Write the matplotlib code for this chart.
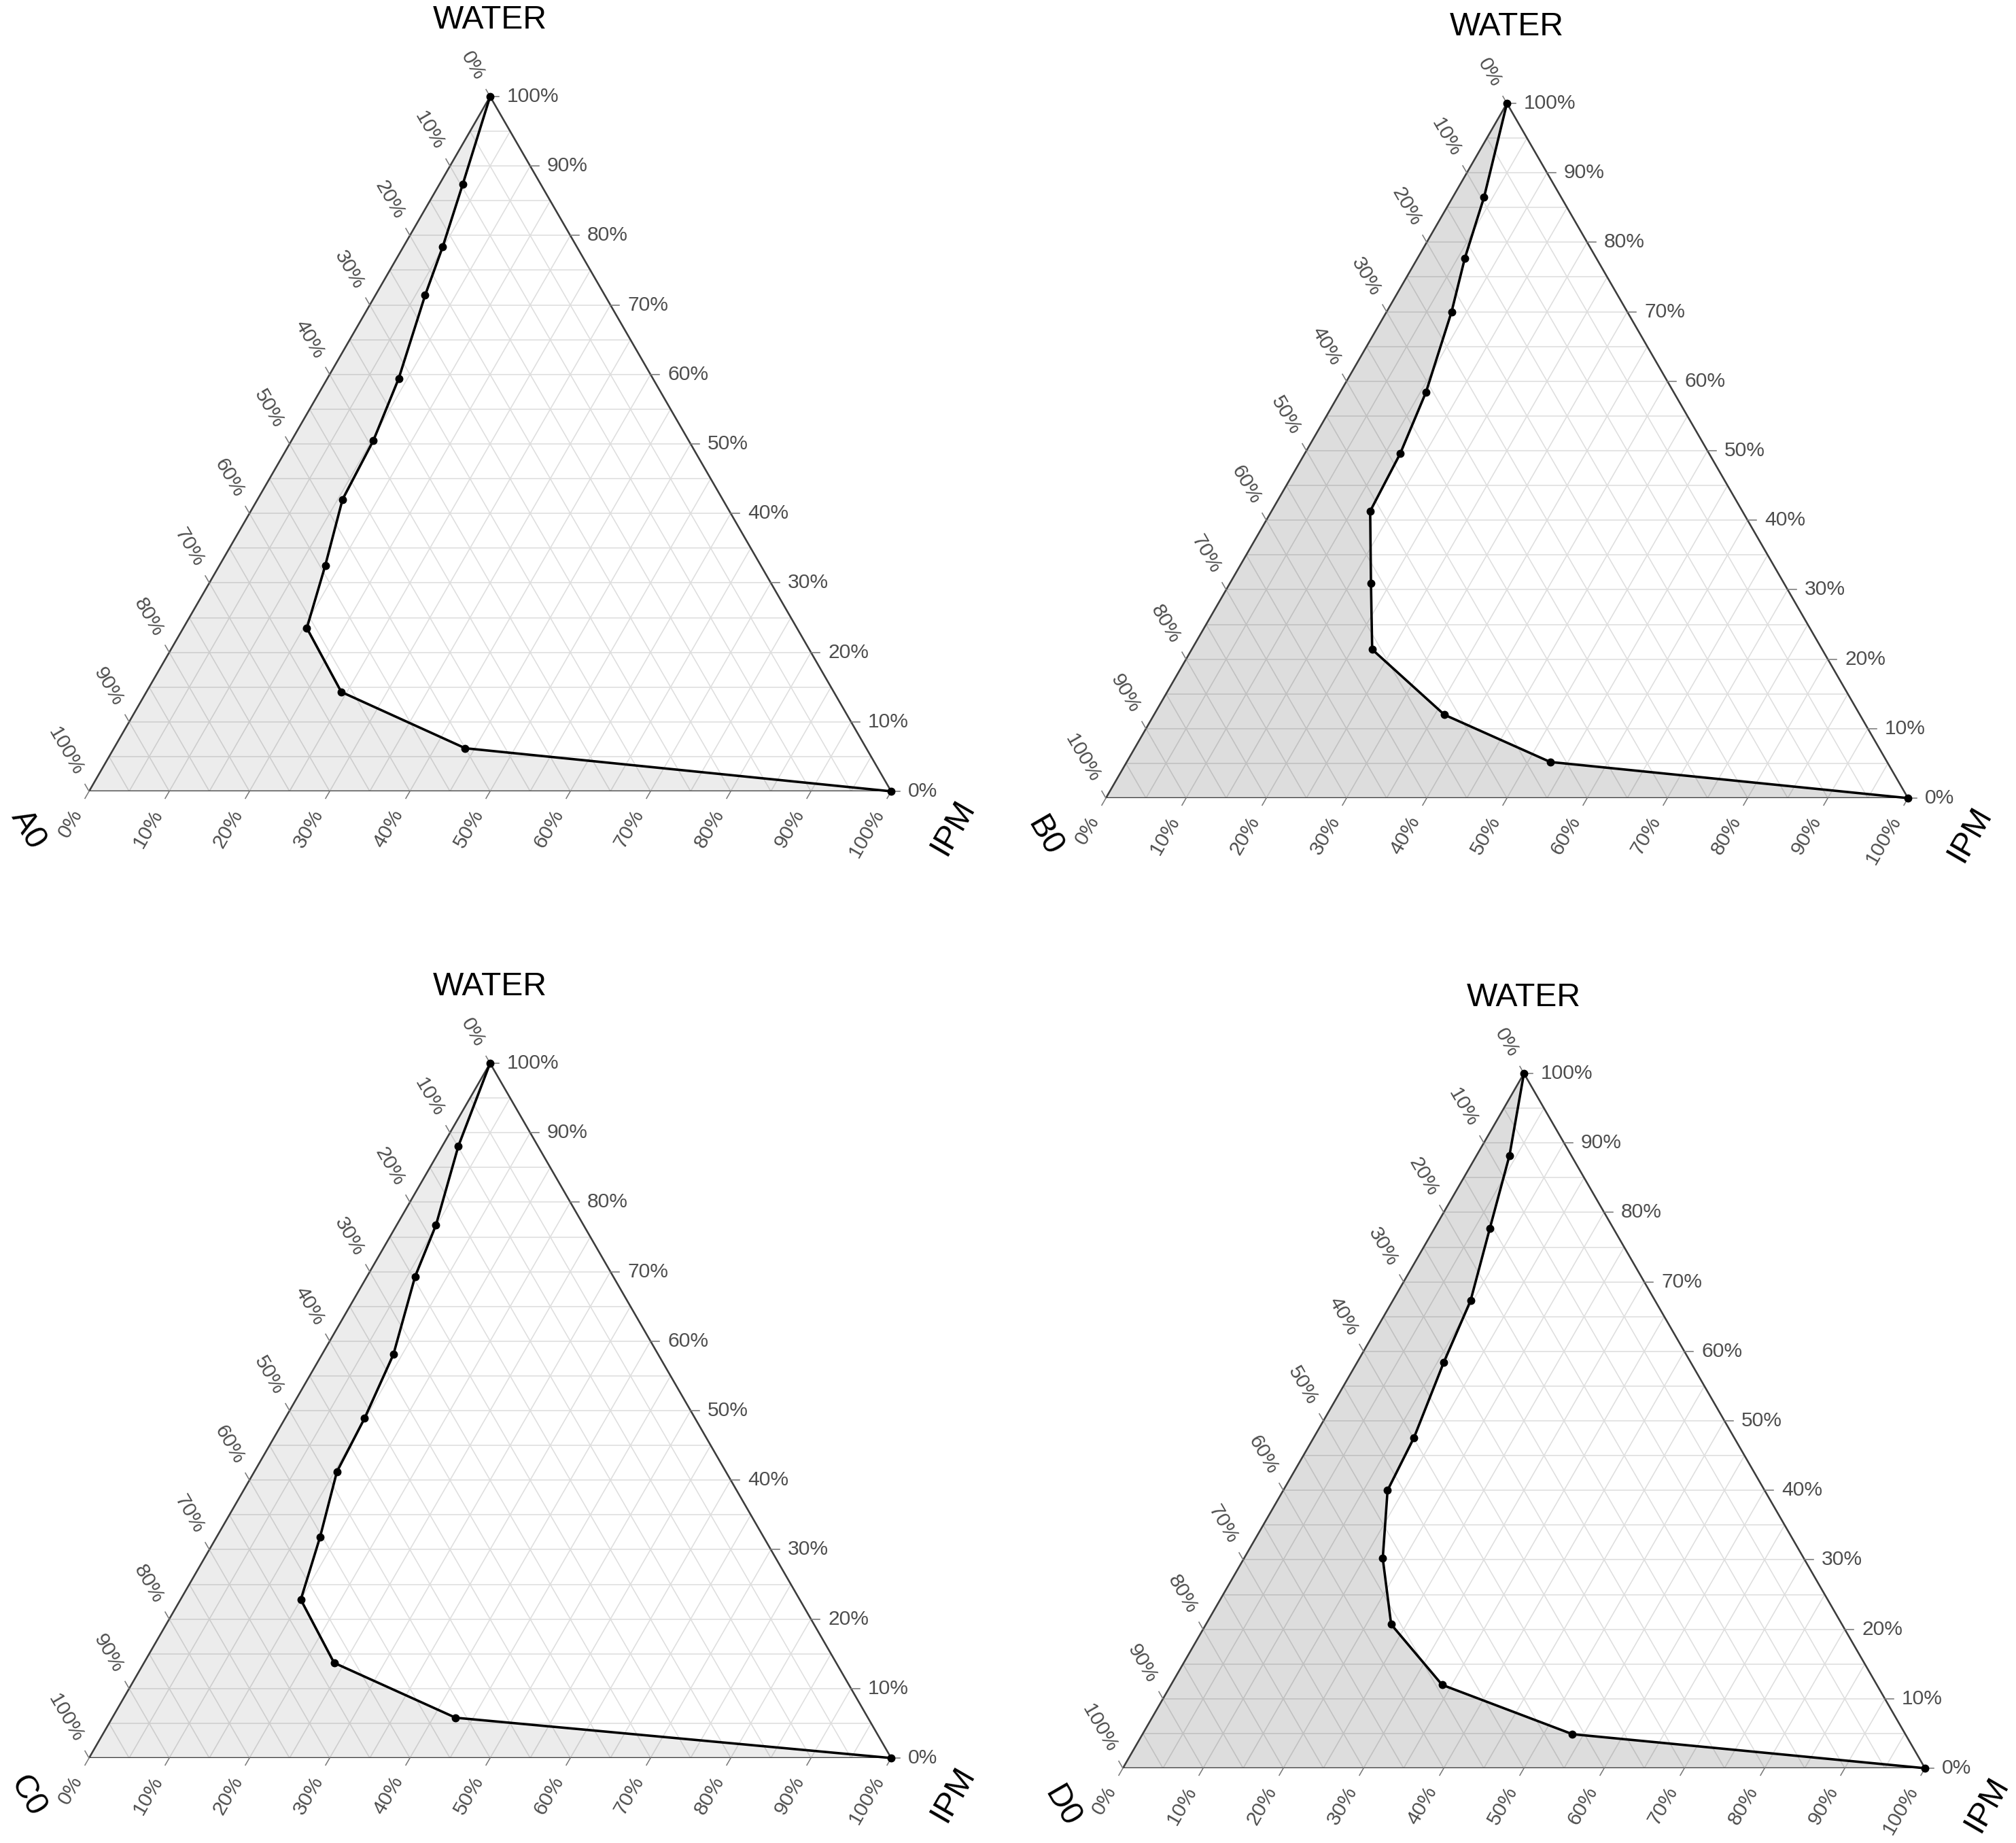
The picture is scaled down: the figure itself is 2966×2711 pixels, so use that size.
import numpy as np
import matplotlib.pyplot as plt

plt.rcParams['font.family'] = ['Liberation Sans', 'DejaVu Sans']

DPI = 100
W, H = 2966, 2711

# compositions, in % (third component = 100 - water - ipm)
water_a = [100, 87.4, 78.4, 71.4, 59.4, 50.5, 42.0, 32.5, 23.5, 14.3, 6.2, 0]
ipm_a = [0, 2.9, 4.9, 6.2, 8.9, 10.2, 10.6, 13.2, 15.4, 24.3, 43.8, 100]

water_b = [100, 86.5, 77.7, 70.0, 58.4, 49.6, 41.3, 30.9, 21.4, 12.0, 5.2, 0]
ipm_b = [0, 3.9, 5.9, 8.1, 10.7, 11.9, 12.3, 17.6, 22.5, 36.2, 52.8, 100]

water_c = [100, 88.1, 76.7, 69.3, 58.1, 48.9, 41.2, 31.8, 22.8, 13.7, 5.8, 0]
ipm_c = [0, 2.0, 4.9, 6.0, 8.9, 9.9, 10.3, 12.9, 15.0, 23.7, 42.8, 100]

water_d = [100, 88.2, 77.7, 67.3, 58.4, 47.6, 40.0, 30.2, 20.7, 12.0, 4.9, 0]
ipm_d = [0, 4.1, 6.9, 9.7, 10.8, 12.5, 13.0, 17.3, 23.1, 33.8, 53.6, 100]

ticks = list(range(0, 101, 10))
grid = list(range(5, 100, 5))

panels = [
    ('A0', water_a, ipm_a, (131, 1164, 142), 0.075),
    ('B0', water_b, ipm_b, (1627, 1174, 152), 0.135),
    ('C0', water_c, ipm_c, (131, 2586, 1564), 0.075),
    ('D0', water_d, ipm_d, (1652, 2601, 1579), 0.135),
]

S3 = np.sqrt(3) / 2


def tern(ipm, water):
    ipm = np.asarray(ipm, dtype=float) / 100
    water = np.asarray(water, dtype=float) / 100
    return ipm + water / 2, water * S3


def pt(v):
    return v * 72 / DPI


fig = plt.figure(figsize=(W / DPI, H / DPI), dpi=DPI)

for name, water, ipm, (left, bottom, top), shade in panels:
    h = bottom - top
    w = h / S3
    ax = fig.add_axes([left / W, 1 - bottom / H, w / W, h / H])
    ax.set_xlim(0, 1)
    ax.set_ylim(0, S3)
    ax.axis('off')
    u = 1 / w  # one pixel in data units

    # grid
    for v in grid:
        for p, q in [((0, v), (100 - v, v)),
                     ((v, 0), (v, 100 - v)),
                     ((100 - v, 0), (0, 100 - v))]:
            x, y = tern([p[0], q[0]], [p[1], q[1]])
            ax.plot(x, y, color='#dedede', lw=pt(1.6), zorder=1)

    # shaded region + curve
    x, y = tern(ipm, water)
    ax.fill(np.append(x, 0), np.append(y, 0), color='k', alpha=shade, lw=0, zorder=2)
    ax.plot([0, 1, 0.5, 0], [0, 0, S3, 0], color='#3d3d3d', lw=pt(2.6), zorder=3,
            solid_joinstyle='miter')
    ax.plot(x, y, color='k', lw=pt(3.6), marker='o', ms=pt(10.5), zorder=5, clip_on=False)

    tick_kw = dict(color='#7a7a7a', lw=pt(1.6), clip_on=False, zorder=3)
    lab_kw = dict(fontsize=pt(30), color='#4d4d4d', rotation_mode='anchor',
                  va='center', clip_on=False)
    for t in ticks:
        # bottom axis: IPM
        bx, by = tern(t, 0)
        d = np.array([-0.5, -S3])
        ax.plot([bx, bx + d[0] * 12 * u], [by, by + d[1] * 12 * u], **tick_kw)
        ax.text(bx + d[0] * 33 * u, by + d[1] * 33 * u, f'{t}%', rotation=60,
                ha='right', **lab_kw)
        # right axis: WATER
        rx, ry = tern(100 - t, t)
        ax.plot([rx, rx + 13 * u], [ry, ry], **tick_kw)
        ax.text(rx + 25 * u, ry, f'{t}%', ha='left', **lab_kw)
        # left axis: oil
        lx, ly = tern(0, 100 - t)
        d = np.array([-0.5, S3])
        ax.plot([lx, lx + d[0] * 12 * u], [ly, ly + d[1] * 12 * u], **tick_kw)
        ax.text(lx + d[0] * 30 * u, ly + d[1] * 30 * u, f'{t}%', rotation=-60,
                ha='right', **lab_kw)

    ax.text(0.5, S3 + 112 * u, 'WATER', fontsize=pt(48), ha='center', va='center',
            clip_on=False)
    ax.text(-90 * u, -56 * u, name, fontsize=pt(48), rotation=-60, ha='center',
            va='center', rotation_mode='anchor', clip_on=False)
    ax.text(1 + 91 * u, -53 * u, 'IPM', fontsize=pt(48), rotation=60, ha='center',
            va='center', rotation_mode='anchor', clip_on=False)

fig.savefig('out.png', dpi=DPI, facecolor='white')
